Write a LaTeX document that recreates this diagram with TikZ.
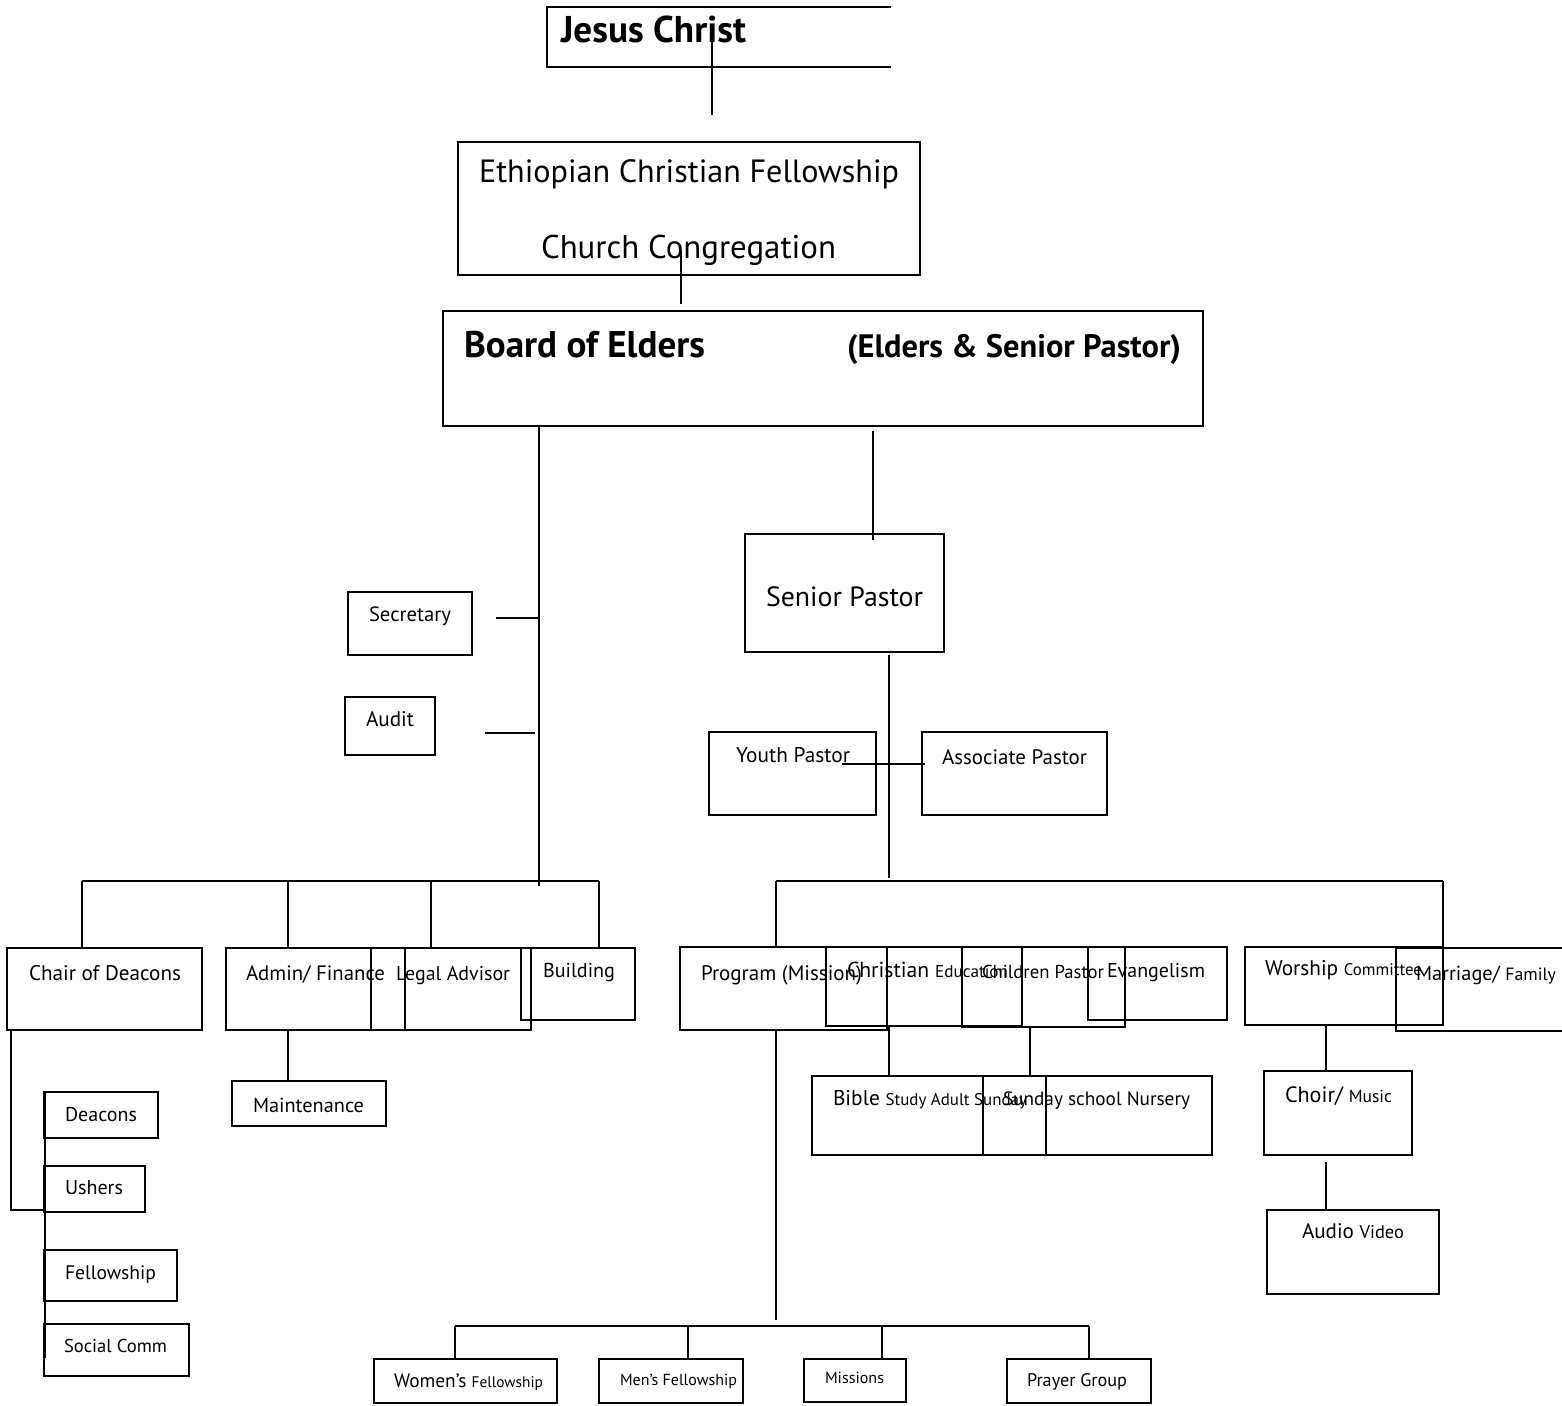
\documentclass[tikz,border=0pt]{standalone}
\usepackage{fontspec}
\usepackage{graphicx}
\setmainfont{PT Sans}
\newcommand\Bx[6][box]{\node[#1, minimum width={(#5-#3)*1pt}, minimum height={(#6-#4)*1pt}] (#2) at ({(#3+#5)/2},{(#4+#6)/2}) {};}
\newcommand\Lb[5]{\node[lbl] (#1) at (#2,#3) {\resizebox{#4pt}{!}{#5}};}
\newcommand\BigTx{\fontsize{24}{24}\selectfont}
\newcommand\SmlTx{\fontsize{19}{19}\selectfont}
\newcommand\MidTx{\fontsize{21}{21}\selectfont}
\begin{document}
\begin{tikzpicture}[x=1pt,y=-1pt,
  box/.style={draw, line width=1.2pt, inner sep=0pt, outer sep=0pt},
  tbox/.style={box, line width=2pt},
  ln/.style={line width=1.4pt},
  tk/.style={line width=2pt},
  lbl/.style={anchor=base west, inner sep=0pt, outer sep=0pt, font=\fontsize{24}{24}\selectfont}]
\useasboundingbox[fill=white] (0,0) rectangle (1562,1405);

% ---------- boxes ----------
\node[inner sep=0pt, outer sep=0pt, minimum width=344pt, minimum height=60pt] (jc) at (719,37) {};
\draw[line width=1.5pt] (jc.north east) -- (jc.north west) -- (jc.south west) -- (jc.south east);
\Bx[tbox]{ecf}{458}{142}{920}{275}
\Bx[tbox]{boe}{443}{311}{1203}{426}
\Bx[tbox]{sp}{745}{534}{944}{652}
\Bx{sec}{348}{592}{472}{655}
\Bx{aud}{345}{697}{435}{755}
\Bx{yp}{709}{732}{876}{815}
\Bx{ap}{922}{732}{1107}{815}
\Bx[tbox]{cod}{7}{948}{202}{1030}
\Bx[tbox]{adm}{226}{948}{531}{1030}
\Bx[tbox]{leg}{371}{948}{405}{1030}
\Bx[tbox]{bld}{521}{948}{635}{1020}
\Bx[tbox]{prg}{680}{947}{887}{1030}
\Bx[tbox]{ced}{826}{947}{1022}{1026}
\Bx[tbox]{chp}{962}{947}{1125}{1027}
\Bx[tbox]{evg}{1088}{947}{1227}{1020}
\Bx[tbox]{wsh}{1245}{947}{1443}{1025}
\Bx[tbox]{mar}{1396}{948}{1572}{1031}
\Bx{mnt}{232}{1081}{386}{1126}
\Bx{bib}{812}{1076}{1212}{1155}
\Bx{sun}{983}{1076}{1046}{1155}
\Bx{chr}{1264}{1071}{1412}{1155}
\Bx{av}{1267}{1210}{1439}{1294}
\Bx{dea}{44}{1092}{158}{1138}
\Bx{ush}{44}{1166}{145}{1212}
\Bx{fel}{44}{1250}{177}{1301}
\Bx{soc}{44}{1324}{189}{1376}
\Bx{wf}{374}{1359}{557}{1403}
\Bx{mf}{599}{1359}{743}{1403}
\Bx{mis}{804}{1359}{906}{1402}
\Bx{pg}{1007}{1359}{1151}{1403}

% ---------- labels ----------
\Lb{jct}{561}{42}{185}{\bfseries Jesus Christ}
\Lb{ecft}{479}{182}{420}{Ethiopian Christian Fellowship}
\Lb{cct}{541}{258}{295}{Church Congregation}
\Lb{boet}{464}{357}{241}{\bfseries Board of Elders}
\Lb{espt}{847}{357}{334}{\bfseries (Elders \& Senior Pastor)}
\Lb{spt}{766}{606}{157}{Senior Pastor}
\Lb{sect}{369}{621}{82}{Secretary}
\Lb{audt}{366}{726}{48}{Audit}
\Lb{ypt}{736}{762}{114}{Youth Pastor}
\Lb{apt}{942}{764}{145}{Associate Pastor}
\Lb{codt}{29}{980}{152}{Chair of Deacons}
\Lb{admt}{246}{980}{139}{Admin/ Finance}
\Lb{legt}{396}{980}{114}{Legal Advisor}
\Lb{bldt}{543}{977}{72}{Building}
\Lb{prgt}{701}{980}{161}{Program (Mission)}
\Lb{cedt}{847}{977}{161}{{\BigTx Christian} {\SmlTx Education}}
\Lb{cpt}{982}{978}{122}{Children Pastor}
\Lb{evgt}{1107}{977}{98}{Evangelism}
\Lb{wsht}{1265}{975}{157}{{\BigTx Worship} {\SmlTx Committee}}
\Lb{mart}{1416}{980}{140}{{\BigTx Marriage/} {\MidTx Family}}
\Lb{mntt}{253}{1112}{111}{Maintenance}
\Lb{deat}{65}{1121}{72}{Deacons}
\Lb{usht}{65}{1194}{58}{Ushers}
\Lb{felt}{65}{1279}{91}{Fellowship}
\Lb{soct}{64}{1352}{103}{Social Comm}
\Lb{bibt}{833}{1105}{194}{{\BigTx Bible} {\SmlTx Study Adult Sunday}}
\Lb{sunt}{1003}{1105}{187}{Sunday school Nursery}
\Lb{chrt}{1285}{1102}{107}{{\BigTx Choir/} {\SmlTx Music}}
\Lb{avt}{1302}{1238}{102}{{\BigTx Audio} {\MidTx Video}}
\Lb{wft}{394}{1387}{149}{{\BigTx Women’s} {\SmlTx Fellowship}}
\Lb{mft}{620}{1385}{117}{Men’s Fellowship}
\Lb{mist}{825}{1383}{59}{Missions}
\Lb{pgt}{1027}{1386}{100}{Prayer Group}

% ---------- connector coordinates ----------
\coordinate (jA) at (712,42);   \coordinate (jB) at (712,115);
\coordinate (eA) at (681,250);  \coordinate (eB) at (681,304);
\coordinate (tA) at (539,426);  \coordinate (tB) at (539,886);
\coordinate (rA) at (873,431);  \coordinate (rB) at (873,540);
\coordinate (sA) at (496,618);  \coordinate (sB) at (539,618);
\coordinate (aA) at (485,733);  \coordinate (aB) at (535,733);
\coordinate (pA) at (889,655);  \coordinate (pB) at (889,878);
\coordinate (yA) at (842,764);  \coordinate (yB) at (925,764);
\coordinate (lb1) at (82,881);  \coordinate (lb2) at (288,881);
\coordinate (lb3) at (431,881); \coordinate (lb4) at (599,881);
\coordinate (rb1) at (776,881); \coordinate (rb2) at (1443,881);
\coordinate (gA) at (776,1030); \coordinate (gB) at (776,1320);
\coordinate (bb1) at (455,1326); \coordinate (bb2) at (688,1326);
\coordinate (bb3) at (882,1326); \coordinate (bb4) at (1089,1326);
\coordinate (cA) at (889,1026); \coordinate (dA) at (1030,1027);
\coordinate (wA) at (1326,1025); \coordinate (vA) at (1326,1162);
\coordinate (mA) at (288,1030);
\coordinate (hA) at (11,1030); \coordinate (hB) at (11,1210); \coordinate (hC) at (45,1210);
\coordinate (kA) at (45,1092); \coordinate (kB) at (45,1358);

% ---------- connectors ----------
\draw[ln] (jA) -- (jB);
\draw[ln] (eA) -- (eB);
\draw[tk] (tA) -- (tB);
\draw[ln] (rA) -- (rB);
\draw[ln] (sA) -- (sB);
\draw[ln] (aA) -- (aB);
\draw[ln] (pA) -- (pB);
\draw[ln] (yA) -- (yB);
\draw[ln] (lb1) -- (lb4);
\draw[ln] (lb1) -- (lb1 |- cod.north);
\draw[ln] (lb2) -- (lb2 |- adm.north);
\draw[ln] (lb3) -- (lb3 |- adm.north);
\draw[ln] (lb4) -- (lb4 |- bld.north);
\draw[ln] (rb1) -- (rb2);
\draw[ln] (rb1) -- (rb1 |- prg.north);
\draw[ln] (rb2) -- (rb2 |- mar.north);
\draw[ln] (gA) -- (gB);
\draw[ln] (bb1) -- (bb4);
\draw[ln] (bb1) -- (bb1 |- wf.north);
\draw[ln] (bb2) -- (bb2 |- mf.north);
\draw[ln] (bb3) -- (bb3 |- mis.north);
\draw[ln] (bb4) -- (bb4 |- pg.north);
\draw[ln] (cA) -- (cA |- bib.north);
\draw[ln] (dA) -- (dA |- sun.north);
\draw[ln] (wA) -- (wA |- chr.north);
\draw[ln] (vA) -- (vA |- av.north);
\draw[ln] (mA) -- (mA |- mnt.north);
\draw[ln] (hA) -- (hB) -- (hC);
\draw[tk] (kA) -- (kB);
\end{tikzpicture}
\end{document}
